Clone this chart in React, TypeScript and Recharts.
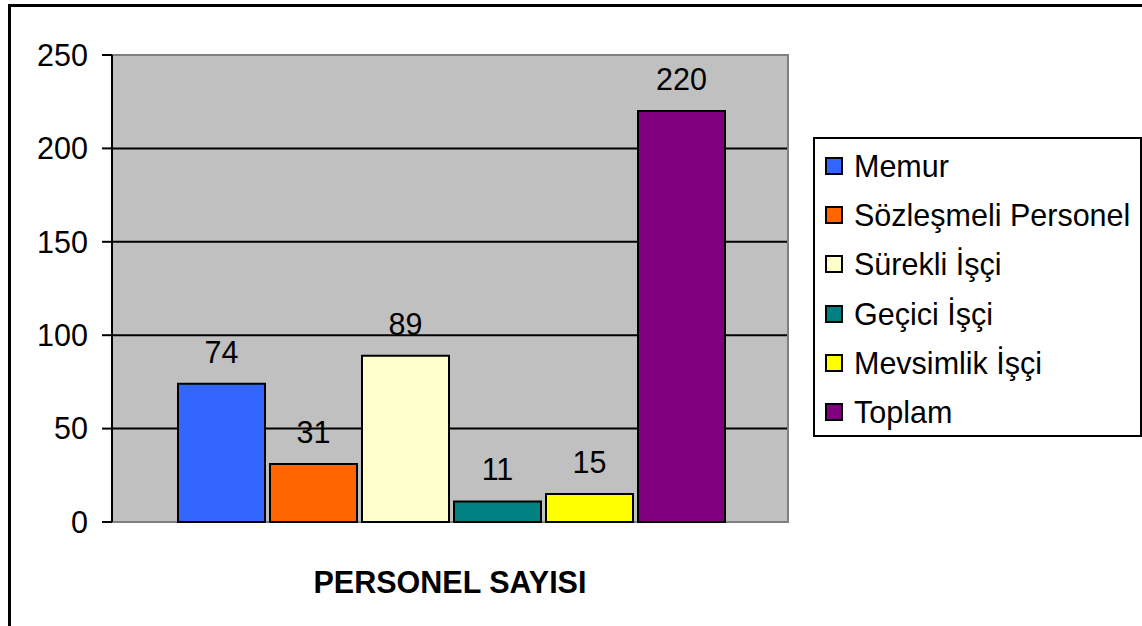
import React from 'react'
import { BarChart, Bar, XAxis, YAxis, CartesianGrid, ReferenceArea, LabelList } from 'recharts'

const categories = ['PERSONEL SAYISI']
const seriesNames = ['Memur', 'Sözleşmeli Personel', 'Sürekli İşçi', 'Geçici İşçi', 'Mevsimlik İşçi', 'Toplam']
const seriesValues = [74, 31, 89, 11, 15, 220]
const seriesColors = ['#3366FF', '#FF6600', '#FFFFCC', '#008080', '#FFFF00', '#800080']
const yTicks = [0, 50, 100, 150, 200, 250]

const data = categories.map((name) => {
  const row: Record<string, string | number> = { name }
  seriesNames.forEach((s, i) => {
    row[s] = seriesValues[i]
  })
  return row
})

const FONT = '"Liberation Sans", Arial, sans-serif'

const CategoryTick = ({ x, y, payload }: any) => (
  <text x={x} y={y + 63} textAnchor="middle" fontFamily={FONT} fontSize={30.5} fontWeight="bold" fill="#000">
    {payload.value}
  </text>
)

export default function App() {
  return (
    <div style={{ position: 'absolute', left: 0, top: 0, width: 1142, height: 626, overflow: 'hidden', background: '#fff' }}>
      {/* outer chart border, runs off the right and bottom */}
      <div style={{ position: 'absolute', left: 8, top: 4, width: 1300, height: 800, borderLeft: '3px solid #000', borderTop: '3px solid #000' }} />
      <div style={{ position: 'absolute', left: 0, top: 0 }}>
        <BarChart
          width={1142}
          height={626}
          data={data}
          margin={{ top: 55, right: 354, bottom: 0, left: 0 }}
          barCategoryGap={66}
          barGap={5}
        >
          <CartesianGrid vertical={false} fill="#C0C0C0" fillOpacity={1} stroke="#000" strokeWidth={2} />
          <ReferenceArea y1={0} y2={250} fill="none" stroke="#808080" strokeWidth={2} />
          <XAxis dataKey="name" axisLine={false} tickLine={false} height={104} tick={<CategoryTick />} />
          <YAxis
            domain={[0, 250]}
            ticks={yTicks}
            width={112}
            axisLine={{ stroke: '#000', strokeWidth: 2 }}
            tickLine={{ stroke: '#000', strokeWidth: 2 }}
            tickSize={10}
            tickMargin={14}
            tick={{ fontFamily: FONT, fontSize: 30.5, fill: '#000' }}
          />
          {seriesNames.map((s, i) => (
            <Bar key={s} dataKey={s} fill={seriesColors[i]} stroke="#000" strokeWidth={2} isAnimationActive={false}>
              <LabelList dataKey={s} position="top" offset={21} fill="#000" fontFamily={FONT} fontSize={30.5} />
            </Bar>
          ))}
        </BarChart>
      </div>
      {/* legend */}
      <div
        style={{
          position: 'absolute',
          left: 813,
          top: 137,
          width: 325,
          height: 296,
          border: '2px solid #000',
          background: '#fff',
          fontFamily: FONT,
          fontSize: 30.5,
          color: '#000',
          boxSizing: 'content-box',
        }}
      >
        {seriesNames.map((s, i) => (
          <div key={s} style={{ position: 'absolute', left: 0, top: 29 - 2 + i * 49.2 - 20, height: 40, display: 'flex', alignItems: 'center', whiteSpace: 'nowrap' }}>
            <div style={{ width: 14, height: 14, marginLeft: 10, marginRight: 11, background: seriesColors[i], border: '2px solid #000' }} />
            <span style={{ lineHeight: '40px' }}>{s}</span>
          </div>
        ))}
      </div>
    </div>
  )
}
